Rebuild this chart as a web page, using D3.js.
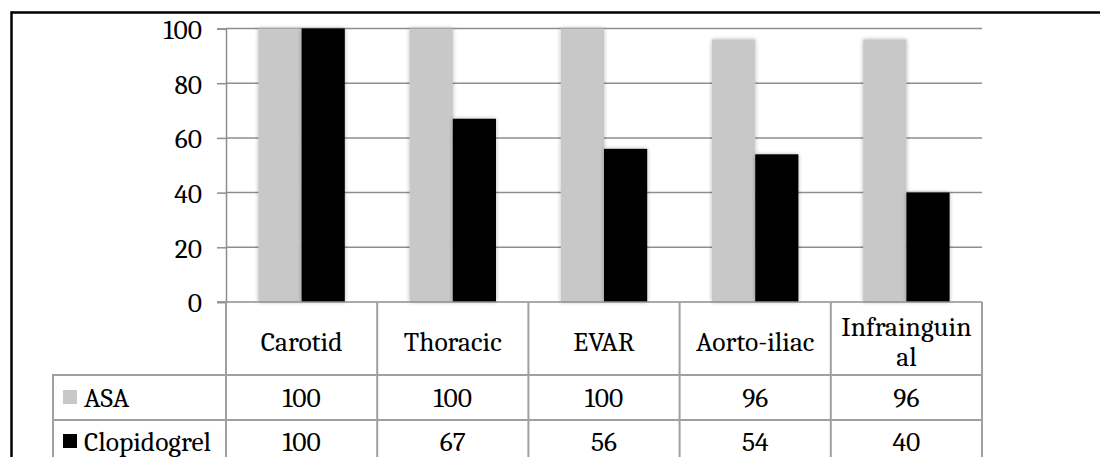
<!DOCTYPE html>
<html>
<head>
<meta charset="utf-8">
<script src="https://cdn.jsdelivr.net/npm/d3@7"></script>
<style>
  html, body { margin: 0; padding: 0; background: #fff; }
  svg { display: block; }
</style>
</head>
<body>
<svg id="chart" width="1100" height="457"></svg>
<script>
// ---- data ----
const categories = ["Carotid", "Thoracic", "EVAR", "Aorto-iliac", "Infrainguinal"];
const categoryLabelLines = [["Carotid"], ["Thoracic"], ["EVAR"], ["Aorto-iliac"], ["Infrainguin", "al"]];
const seriesNames = ["ASA", "Clopidogrel"];
const asaValues = [100, 100, 100, 96, 96];
const clopidogrelValues = [100, 67, 56, 54, 40];
const yTicks = [0, 20, 40, 60, 80, 100];
const seriesColors = ["#c8c8c8", "#000000"];

const seriesValues = [asaValues, clopidogrelValues];

// ---- layout ----
const W = 1100, H = 457;
const plotLeft = 226, plotRight = 982, plotTop = 28.5, plotBottom = 302;
const headerBottom = 375, row1Bottom = 420;
const legendLeft = 53;
const gridColor = "#8e8e8e";
const tableColor = "#a0a0a0";
const fontSize = "27.5px";
const fontFam = '"Caladea", "Cambria", "Liberation Serif", serif';

const svg = d3.select("#chart");
function styleText(sel) {
  return sel.style("font-family", fontFam).style("font-size", fontSize).style("fill", "#000");
}

const defs = svg.append("defs");
const f = defs.append("filter").attr("id", "shadow")
  .attr("x", "-30%").attr("y", "-5%").attr("width", "160%").attr("height", "110%");
f.append("feGaussianBlur").attr("in", "SourceAlpha").attr("stdDeviation", 2.2).attr("result", "b");
f.append("feComponentTransfer").attr("in", "b").attr("result", "b2")
  .append("feFuncA").attr("type", "linear").attr("slope", 0.3);
const m = f.append("feMerge");
m.append("feMergeNode").attr("in", "b2");
m.append("feMergeNode").attr("in", "SourceGraphic");

// outer frame (top and left edges visible)
svg.append("line").attr("x1", 11.5).attr("x2", W).attr("y1", 12.5).attr("y2", 12.5)
  .attr("stroke", "#000").attr("stroke-width", 2.5);
svg.append("line").attr("x1", 11.5).attr("x2", 11.5).attr("y1", 11.3).attr("y2", H)
  .attr("stroke", "#000").attr("stroke-width", 2.5);

// scales
const x0 = d3.scaleBand().domain(categories).range([plotLeft, plotRight]).paddingInner(0).paddingOuter(0);
const x1 = d3.scaleBand().domain(seriesNames).range([0, x0.bandwidth()]).paddingInner(0).paddingOuter(0.75);
const y = d3.scaleLinear().domain([0, 100]).range([plotBottom, plotTop]);

// gridlines
svg.append("g").selectAll("line").data(yTicks.filter(d => d > 0)).join("line")
  .attr("x1", plotLeft).attr("x2", plotRight)
  .attr("y1", d => y(d)).attr("y2", d => y(d))
  .attr("stroke", gridColor).attr("stroke-width", 1.5);

// y axis
const yAxis = d3.axisLeft(y).tickValues(yTicks).tickSize(9).tickPadding(15).tickFormat(d3.format("d"));
const gy = svg.append("g").attr("transform", `translate(${plotLeft},0)`).call(yAxis);
gy.select(".domain").attr("stroke", gridColor).attr("stroke-width", 1.5);
gy.selectAll(".tick line").attr("stroke", gridColor).attr("stroke-width", 1.5);
styleText(gy.selectAll(".tick text")).attr("dy", "0.36em");

// bars
const barData = [];
categories.forEach((c, i) => seriesNames.forEach((s, j) => barData.push({ c, s, v: seriesValues[j][i], j })));
svg.append("g").selectAll("rect").data(barData).join("rect")
  .attr("x", d => x0(d.c) + x1(d.s))
  .attr("width", x1.bandwidth())
  .attr("y", d => y(d.v))
  .attr("height", d => y(0) - y(d.v))
  .attr("fill", d => seriesColors[d.j])
  .attr("filter", "url(#shadow)");

// data table
const t = svg.append("g");
const vEdges = categories.map(c => x0(c)).concat([plotRight]);
t.append("line").attr("x1", plotLeft - 9).attr("x2", plotRight).attr("y1", plotBottom).attr("y2", plotBottom)
  .attr("stroke", gridColor).attr("stroke-width", 1.5);
[headerBottom, row1Bottom].forEach(yy => {
  t.append("line").attr("x1", legendLeft).attr("x2", plotRight).attr("y1", yy).attr("y2", yy)
    .attr("stroke", tableColor).attr("stroke-width", 2);
});
vEdges.forEach(xx => {
  t.append("line").attr("x1", xx).attr("x2", xx).attr("y1", plotBottom).attr("y2", H)
    .attr("stroke", tableColor).attr("stroke-width", 2);
});
t.append("line").attr("x1", legendLeft).attr("x2", legendLeft).attr("y1", headerBottom - 1).attr("y2", H)
  .attr("stroke", tableColor).attr("stroke-width", 2);

// header labels
categories.forEach((c, i) => {
  const lines = categoryLabelLines[i];
  const cx = x0(c) + x0.bandwidth() / 2;
  const lh = 30;
  const base = 351 - (lines.length - 1) * lh / 2;
  lines.forEach((ln, k) => {
    styleText(t.append("text")).attr("x", cx).attr("y", base + k * lh)
      .attr("text-anchor", "middle").text(ln);
  });
});

// rows
const rowBaselines = [407, 451];
seriesNames.forEach((s, j) => {
  const by = rowBaselines[j];
  t.append("rect").attr("x", 63).attr("y", by - 17).attr("width", 14).attr("height", 14)
    .attr("fill", seriesColors[j]);
  styleText(t.append("text")).attr("x", 84).attr("y", by).text(s);
  categories.forEach((c, i) => {
    styleText(t.append("text")).attr("x", x0(c) + x0.bandwidth() / 2).attr("y", by)
      .attr("text-anchor", "middle").text(seriesValues[j][i]);
  });
});
</script>
</body>
</html>
